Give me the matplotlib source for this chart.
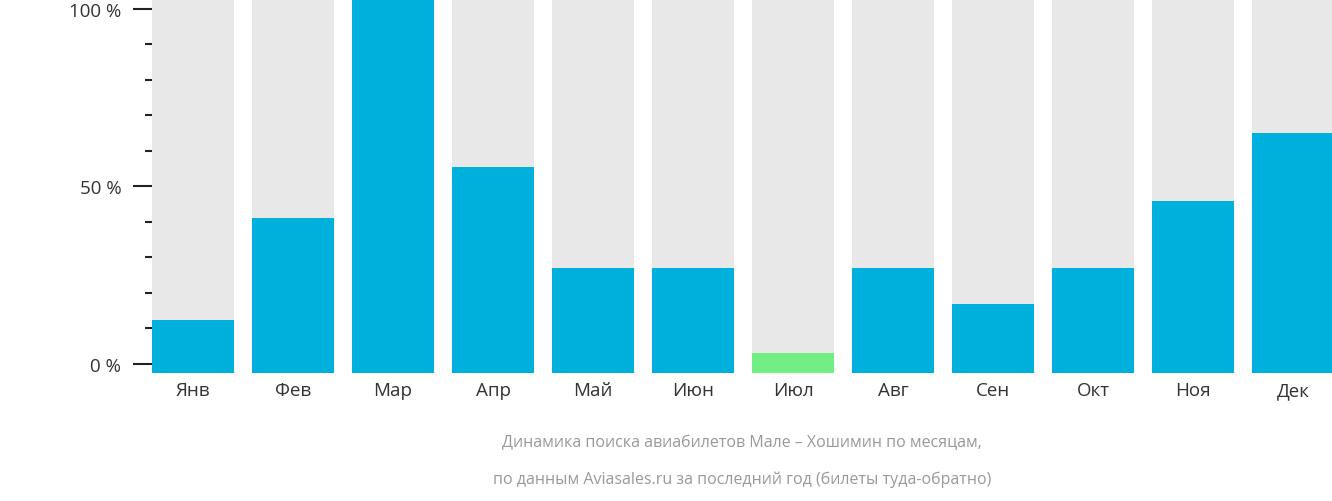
import matplotlib.pyplot as plt

months = ["Янв", "Фев", "Мар", "Апр", "Май", "Июн", "Июл", "Авг", "Сен", "Окт", "Ноя", "Дек"]
values = [12.4, 41, 102.8, 55.5, 27, 27, 3, 27, 17, 27, 46, 65]
colors = ["#00b0dc"] * 12
colors[6] = "#72ef84"

plt.rcParams["font.family"] = "Open Sans"

fig = plt.figure(figsize=(13.32, 5.02), dpi=100)
ax = fig.add_axes([152 / 1332, 128 / 502, 1180 / 1332, 374 / 502])
ymin, ymax = -2.54, 102.8
x = range(len(months))
ax.bar(x, [ymax - ymin] * 12, bottom=ymin, width=0.82, color="#e8e8e8")
ax.bar(x, [v - ymin for v in values], bottom=ymin, width=0.82, color=colors)
ax.set_xlim(-0.41, 11.39)
ax.set_ylim(ymin, ymax)
for s in ax.spines.values():
    s.set_visible(False)

ax.set_yticks([0, 50, 100])
ax.set_yticklabels(["0 %", "50 %", "100 %"], fontsize=13.5, color="#333333")
ax.set_yticks(range(0, 101, 10), minor=True)
ax.tick_params(axis="y", which="major", length=14, width=1.5, pad=8, color="#222222")
ax.tick_params(axis="y", which="minor", length=5, width=1.5, pad=8, color="#222222")
ax.set_xticks(list(x))
ax.set_xticklabels(months, fontsize=13.5, color="#333333")
ax.tick_params(axis="x", length=0, pad=6)

fig.text(742 / 1332, 1 - 443 / 502, "Динамика поиска авиабилетов Мале – Хошимин по месяцам,",
         ha="center", va="center", fontsize=11.5, color="#999999")
fig.text(742 / 1332, 1 - 480 / 502, "по данным Aviasales.ru за последний год (билеты туда-обратно)",
         ha="center", va="center", fontsize=11.5, color="#999999")

fig.savefig("out.png", dpi=100)
